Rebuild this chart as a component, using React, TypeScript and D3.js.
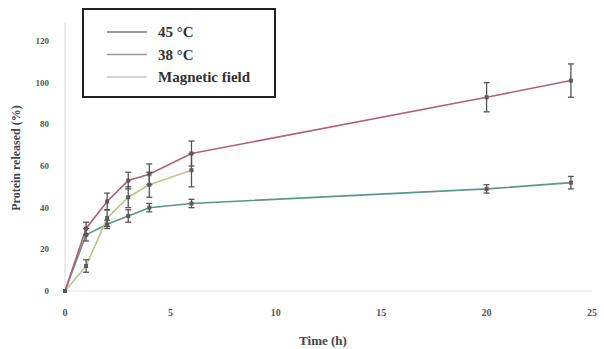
import * as d3 from 'd3';

const timesLong = [0, 1, 2, 3, 4, 6, 20, 24];
const timesShort = [0, 1, 2, 3, 4, 6];

const hot45 = [0, 30, 43, 53, 56, 66, 93, 101];
const hot45Err = [0, 3, 4, 4, 5, 6, 7, 8];

const warm38 = [0, 12, 35, 45, 51, 58];
const warm38Err = [0, 3, 4, 5, 6, 8];

const magnetic = [0, 27, 32, 36, 40, 42, 49, 52];
const magneticErr = [0, 3, 2, 3, 2, 2, 2, 3];

const xTicks = [0, 5, 10, 15, 20, 25];
const yTicks = [0, 20, 40, 60, 80, 100, 120];

const legendLabels = ['45 °C', '38 °C', 'Magnetic field'];

interface Series {
  name: string;
  times: number[];
  values: number[];
  errors: number[];
  color: string;
  legendColor: string;
}

const series: Series[] = [
  { name: legendLabels[2], times: timesLong, values: magnetic, errors: magneticErr, color: '#5b958c', legendColor: '#c4c4c4' },
  { name: legendLabels[1], times: timesShort, values: warm38, errors: warm38Err, color: '#b7c78e', legendColor: '#9a9a9a' },
  { name: legendLabels[0], times: timesLong, values: hot45, errors: hot45Err, color: '#b0607a', legendColor: '#7a7a7a' },
];

const legendOrder = [series[2], series[1], series[0]];

export default function App() {
  const width = 604;
  const height = 349;

  const x = d3.scaleLinear().domain([0, 25]).range([65, 592]);
  const y = d3.scaleLinear().domain([0, 120]).range([291, 41]);

  const line = d3
    .line<[number, number]>()
    .x((d) => x(d[0]))
    .y((d) => y(d[1]));

  const font = "'Liberation Serif', 'DejaVu Serif', serif";

  return (
    <svg
      width={width}
      height={height}
      style={{ position: 'absolute', left: 0, top: 0, background: '#fff' }}
      fontFamily={font}
    >
      {/* axes */}
      <line x1={x(0)} x2={x(0)} y1={22} y2={y(0)} stroke="#d8d8d8" strokeWidth={1} />
      <line x1={x(0)} x2={x(25)} y1={y(0)} y2={y(0)} stroke="#e4e4e4" strokeWidth={1} />

      {yTicks.map((t) => (
        <text
          key={`y${t}`}
          x={49}
          y={y(t)}
          dy="0.35em"
          textAnchor="end"
          fontSize={9}
          fontWeight="bold"
          fill="#555"
        >
          {t}
        </text>
      ))}
      {xTicks.map((t) => (
        <text
          key={`x${t}`}
          x={x(t)}
          y={312}
          dy="0.35em"
          textAnchor="middle"
          fontSize={10}
          fontWeight="bold"
          fill="#555"
        >
          {t}
        </text>
      ))}

      <text
        transform="translate(16,158) rotate(-90)"
        textAnchor="middle"
        dy="0.35em"
        fontSize={12}
        fontWeight="bold"
        fill="#444"
      >
        Protein released (%)
      </text>
      <text x={323} y={340} dy="0.35em" textAnchor="middle" fontSize={13} fontWeight="bold" fill="#444">
        Time (h)
      </text>

      {/* series lines */}
      {series.map((s) => (
        <path
          key={`l-${s.name}`}
          d={line(s.times.map((t, i) => [t, s.values[i]] as [number, number])) ?? ''}
          fill="none"
          stroke={s.color}
          strokeWidth={1.6}
        />
      ))}

      {/* error bars and markers */}
      {series.map((s) =>
        s.times.map((t, i) => {
          const cx = x(t);
          const top = y(s.values[i] + s.errors[i]);
          const bottom = y(s.values[i] - s.errors[i]);
          return (
            <g key={`e-${s.name}-${t}`}>
              {s.errors[i] > 0 && (
                <>
                  <line x1={cx} x2={cx} y1={top} y2={bottom} stroke="#555" strokeWidth={1.3} />
                  <line x1={cx - 3} x2={cx + 3} y1={top} y2={top} stroke="#555" strokeWidth={1.3} />
                  <line x1={cx - 3} x2={cx + 3} y1={bottom} y2={bottom} stroke="#555" strokeWidth={1.3} />
                </>
              )}
              <rect x={cx - 2} y={y(s.values[i]) - 2} width={4} height={4} fill="#5a5a5a" />
            </g>
          );
        })
      )}

      {/* legend */}
      <rect x={83} y={9} width={192} height={88} fill="#fff" stroke="#222" strokeWidth={2} />
      {legendOrder.map((s, i) => (
        <g key={`lg-${s.name}`} transform={`translate(0,${32 + i * 22.5})`}>
          <line x1={107} x2={147} y1={0} y2={0} stroke={s.legendColor} strokeWidth={1.5} />
          <text x={158} y={0} dy="0.35em" fontSize={15} fontWeight="bold" fill="#333">
            {s.name}
          </text>
        </g>
      ))}
    </svg>
  );
}
